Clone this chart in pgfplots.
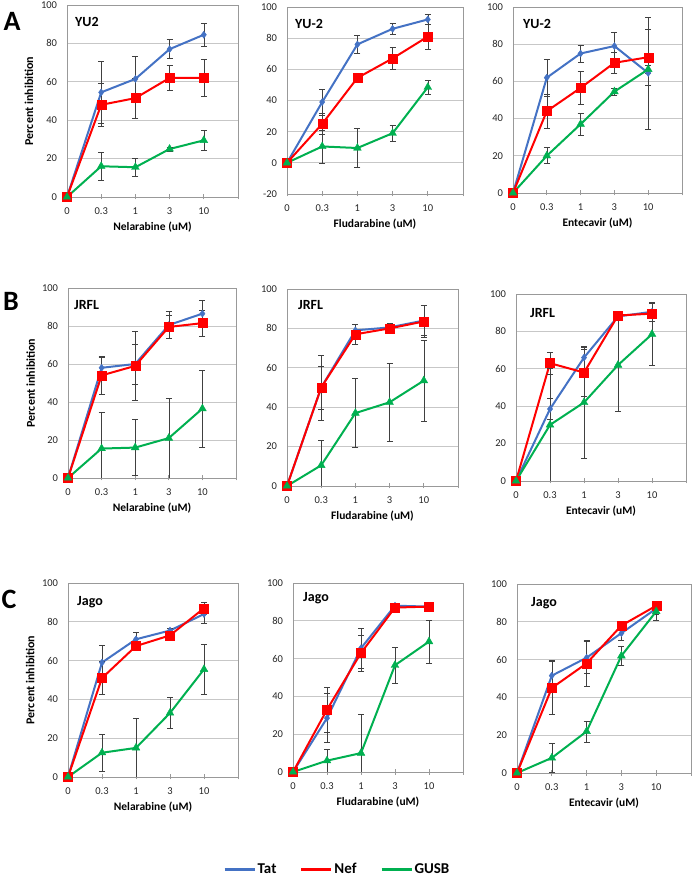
\documentclass[border=0pt]{standalone}
\usepackage{fontspec}
\setmainfont{Carlito}
\usepackage{pgfplots}
\pgfplotsset{compat=1.18}
\definecolor{tat}{HTML}{4472C4}
\definecolor{nef}{HTML}{FF0000}
\definecolor{gusb}{HTML}{00B050}
\tikzset{ttl/.style={anchor=west, inner sep=0pt, font=\bfseries\fontsize{14}{16}\selectfont}}
\pgfplotsset{
 panel/.style={scale only axis, anchor=south west,
  xmin=0, xmax=5, xtick={0,1,2,3,4,5}, xticklabels={0,0.3,1,3,10,{}},
  ymin=0, ymax=100, ytick={0,20,40,60,80,100},
  ymajorgrids, grid style={draw=black!22, line width=0.7pt},
  axis line style={draw=black!40, line width=0.7pt},
  xtick pos=bottom, ytick pos=left, tick align=center, major tick length=5pt,
  xtick style={draw=black!40, line width=0.7pt}, ytick style={draw=none},
  tick label style={font=\fontsize{10.5}{12}\selectfont, text=black!85},
  yticklabel style={xshift=-4pt}, xticklabel style={yshift=-5pt},
  /pgf/number format/assume math mode=true,
  xlabel style={font=\bfseries\fontsize{11.5}{13}\selectfont, at={(axis description cs:0.5,0)}, anchor=center, yshift=-30pt},
  ylabel style={font=\bfseries\fontsize{12}{14}\selectfont, at={(axis description cs:-0.222,0.5)}, anchor=center},
 },
 ebar/.style={/pgfplots/error bars/y dir=both, /pgfplots/error bars/y explicit,
  /pgfplots/error bars/error bar style={draw=black!75, line width=0.6pt},
  /pgfplots/error bars/error mark options={rotate=90, draw=black!75, line width=0.6pt, mark size=3pt}},
 tatp/.style={color=tat, line width=2pt, mark=diamond*, mark size=3.5pt, mark options={solid, line width=0.4pt}, ebar},
 nefp/.style={color=nef, line width=2pt, mark=square*, mark size=4.5pt, mark options={solid, line width=0.4pt}, ebar},
 gusbp/.style={color=gusb, line width=2pt, mark=triangle*, mark size=4.5pt, mark options={solid, line width=0.4pt}, ebar},
}
\begin{document}
\begin{tikzpicture}
\path[use as bounding box] (0,0) rectangle (694pt,878pt);
\node[font=\bfseries\fontsize{28}{30}\selectfont] at (12pt,857pt) {A};
\node[font=\bfseries\fontsize{28}{30}\selectfont] at (11pt,577pt) {B};
\node[font=\bfseries\fontsize{28}{30}\selectfont] at (9pt,279pt) {C};

% ---------- Row A ----------
\begin{axis}[panel, at={(67pt,681pt)}, width=171pt, height=192pt,
  xlabel={Nelarabine (uM)}, ylabel={Percent inhibition}]
\addplot[tatp] coordinates {(0,0) +- (0,0) (1,54.5) +- (0,16) (2,61.5) +- (0,12) (3,77) +- (0,5) (4,84.5) +- (0,6)};
\addplot[nefp] coordinates {(0,0) +- (0,0) (1,48) +- (0,11) (2,51.5) +- (0,10.5) (3,62) +- (0,6.5) (4,62) +- (0,9.7)};
\addplot[gusbp] coordinates {(0,0) +- (0,0) (1,16) +- (0,7.3) (2,15.5) +- (0,4.5) (3,25) +- (0,1) (4,29.5) +- (0,5)};
\node[ttl, xshift=8pt, yshift=-17pt] at (rel axis cs:0,1) {YU2};
\end{axis}

\begin{axis}[panel, at={(287pt,684pt)}, width=176pt, height=187pt,
  ymin=-20, ytick={-20,0,20,40,60,80,100}, xlabel={Fludarabine (uM)}]
\addplot[tatp] coordinates {(0,0) +- (0,0) (1,39) +- (0,8.5) (2,76) +- (0,6) (3,86) +- (0,3.5) (4,92) +- (0,3)};
\addplot[nefp] coordinates {(0,0) +- (0,0) (1,25) +- (0,7) (2,54.5) +- (0,1.5) (3,67) +- (0,7) (4,81) +- (0,8)};
\addplot[gusbp] coordinates {(0,0) +- (0,0) (1,10.5) +- (0,10.5) (2,9.5) +- (0,12.5) (3,19) +- (0,5.3) (4,48.5) +- (0,4.5)};
\node[ttl, xshift=8pt, yshift=-17pt] at (rel axis cs:0,1) {YU-2};
\end{axis}

\begin{axis}[panel, at={(513pt,685pt)}, width=169pt, height=186pt,
  xlabel={Entecavir (uM)}]
\addplot[tatp] coordinates {(0,0) +- (0,0) (1,62) +- (0,10) (2,75) +- (0,4.5) (3,79) +- (0,7.5) (4,64.5) +- (0,30)};
\addplot[nefp] coordinates {(0,0) +- (0,0) (1,44) +- (0,9) (2,56.5) +- (0,9) (3,70) +- (0,5.5) (4,73) +- (0,15)};
\addplot[gusbp] coordinates {(0,0) +- (0,0) (1,20) +- (0,4.3) (2,37) +- (0,6) (3,54.5) +- (0,2) (4,66.5) +- (0,2)};
\node[ttl, xshift=10pt, yshift=-17pt] at (rel axis cs:0,1) {YU-2};
\end{axis}

% ---------- Row B ----------
\begin{axis}[panel, at={(68pt,400pt)}, width=168pt, height=190pt,
  xlabel={Nelarabine (uM)}, ylabel={Percent inhibition}]
\addplot[tatp] coordinates {(0,0) +- (0,0) (1,58) +- (0,5.5) (2,60) +- (0,10.5) (3,80.5) +- (0,7) (4,86.5) +- (0,7)};
\addplot[nefp] coordinates {(0,0) +- (0,0) (1,54) +- (0,10) (2,59) +- (0,18) (3,79.5) +- (0,6) (4,81.5) +- (0,7)};
\addplot[gusbp] coordinates {(0,0) +- (0,0) (1,15.5) +- (0,19) (2,16) +- (0,14.7) (3,21) +- (0,21) (4,36.5) +- (0,20.4)};
\node[ttl, xshift=6pt, yshift=-17pt] at (rel axis cs:0,1) {JRFL};
\end{axis}

\begin{axis}[panel, at={(287pt,392pt)}, width=171pt, height=197pt,
  xlabel={Fludarabine (uM)}]
\addplot[tatp] coordinates {(0,0) +- (0,0) (1,50) +- (0,16.5) (2,79) +- (0,3) (3,80.5) +- (0,2) (4,84) +- (0,7.5)};
\addplot[nefp] coordinates {(0,0) +- (0,0) (1,50) +- (0,11) (2,77) +- (0,5) (3,80) +- (0,2) (4,83.5) +- (0,8)};
\addplot[gusbp] coordinates {(0,0) +- (0,0) (1,10.5) +- (0,12.5) (2,37) +- (0,17.5) (3,42.5) +- (0,19.7) (4,53.5) +- (0,20.7)};
\node[ttl, xshift=11pt, yshift=-16pt] at (rel axis cs:0,1) {JRFL};
\end{axis}

\begin{axis}[panel, at={(516pt,397pt)}, width=170pt, height=187pt,
  xlabel={Entecavir (uM)}]
\addplot[tatp] coordinates {(0,0) +- (0,0) (1,38.5) +- (0,5.5) (2,66) +- (0,5.5) (3,88) +- (0,1.5) (4,90.5) +- (0,5)};
\addplot[nefp] coordinates {(0,0) +- (0,0) (1,63) +- (0,6) (2,58) +- (0,12.5) (3,88.5) +- (0,2) (4,89.5) +- (0,2)};
\addplot[gusbp] coordinates {(0,0) +- (0,0) (1,30) +- (0,30) (2,42) +- (0,30) (3,62) +- (0,24.5) (4,78.5) +- (0,16.5)};
\node[ttl, xshift=14pt, yshift=-19pt] at (rel axis cs:0,1) {JRFL};
\end{axis}

% ---------- Row C ----------
\begin{axis}[panel, at={(68pt,101pt)}, width=170pt, height=194pt,
  xlabel={Nelarabine (uM)}, ylabel={Percent inhibition}]
\addplot[tatp] coordinates {(0,0) +- (0,0) (1,59) +- (0,9) (2,71) +- (0,3.5) (3,75.5) +- (0,1) (4,84) +- (0,5)};
\addplot[nefp] coordinates {(0,0) +- (0,0) (1,51) +- (0,8.5) (2,67.5) +- (0,2) (3,73) +- (0,1) (4,87) +- (0,3)};
\addplot[gusbp] coordinates {(0,0) +- (0,0) (1,12.5) +- (0,9.5) (2,15) +- (0,15) (3,33) +- (0,8) (4,55.5) +- (0,13)};
\node[ttl, xshift=9pt, yshift=-19pt] at (rel axis cs:0,1) {Jago};
\end{axis}

\begin{axis}[panel, at={(293pt,106pt)}, width=170pt, height=189pt,
  xlabel={Fludarabine (uM)},
  legend columns=3,
  legend image code/.code={\draw[#1] (0pt,0pt) -- (30pt,0pt);},
  legend style={draw=none, fill=none, at={(0.259,-0.515)}, anchor=center,
    font=\bfseries\fontsize{15}{17}\selectfont, nodes={inner sep=1.5pt},
    /tikz/every even column/.append style={column sep=22pt}}]
\addplot[forget plot, tatp] coordinates {(0,0) +- (0,0) (1,28.5) +- (0,13) (2,65.5) +- (0,10.5) (3,88) +- (0,1) (4,87.5) +- (0,1)};
\addplot[forget plot, nefp] coordinates {(0,0) +- (0,0) (1,33) +- (0,12) (2,63) +- (0,9.5) (3,87) +- (0,1) (4,87.5) +- (0,1)};
\addplot[forget plot, gusbp] coordinates {(0,0) +- (0,0) (1,6) +- (0,6) (2,10) +- (0,20.5) (3,56.5) +- (0,9.5) (4,69) +- (0,11.5)};
\addlegendimage{draw=tat, line width=3pt}
\addlegendentry{Tat}
\addlegendimage{draw=nef, line width=3pt}
\addlegendentry{Nef}
\addlegendimage{draw=gusb, line width=3pt}
\addlegendentry{GUSB}
\node[ttl, xshift=10pt, yshift=-15pt] at (rel axis cs:0,1) {Jago};
\end{axis}

\begin{axis}[panel, at={(517pt,105pt)}, width=174pt, height=189pt,
  xlabel={Entecavir (uM)}]
\addplot[tatp] coordinates {(0,0) +- (0,0) (1,51.5) +- (0,8) (2,61) +- (0,8.5) (3,74) +- (0,4) (4,87) +- (0,3)};
\addplot[nefp] coordinates {(0,0) +- (0,0) (1,45) +- (0,14) (2,58) +- (0,12) (3,78) +- (0,2) (4,88.5) +- (0,2)};
\addplot[gusbp] coordinates {(0,0) +- (0,0) (1,8) +- (0,7.5) (2,22) +- (0,5.5) (3,62) +- (0,5) (4,85.5) +- (0,4.5)};
\node[ttl, xshift=14pt, yshift=-19pt] at (rel axis cs:0,1) {Jago};
\end{axis}
\end{tikzpicture}
\end{document}
